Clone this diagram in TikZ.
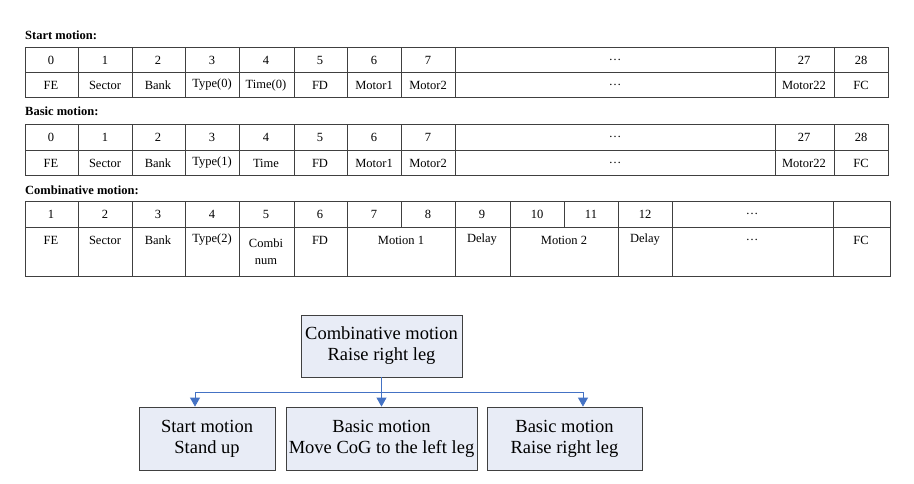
\documentclass[tikz,border=0pt]{standalone}
\usepackage{fontspec}
\setmainfont{Liberation Serif}
\usetikzlibrary{arrows.meta}
\definecolor{arr}{HTML}{4472C4}
\definecolor{boxfill}{HTML}{E8ECF6}
\begin{document}
\begin{tikzpicture}[x=1pt,y=-1pt,
  t/.style={font=\fontsize{12.5}{13}\selectfont,inner sep=0pt},
  ttl/.style={font=\fontsize{12.5}{13}\selectfont\bfseries,inner sep=0pt,anchor=west},
  tl/.style={draw=black!75,line width=0.7pt},
  box/.style={draw=black!75,fill=boxfill,line width=0.8pt,align=center,inner sep=0pt,font=\fontsize{18.5}{21}\selectfont},
  conn/.style={draw=arr,line width=0.8pt},
  aconn/.style={conn,-{Triangle[width=10pt,length=9pt]}}]
\useasboundingbox (0,0) rectangle (914,483);
% ---- Table 1 ----
\node[ttl] (t1) at (25,35) {Start motion:};
\draw[tl] (25,47) rectangle (888,97);
\draw[tl] (25,72) -- (888,72);
\foreach \x in {78,132,185,239,294,347,401,455,775,834} \draw[tl] (\x,47) -- (\x,97);
\foreach \x/\a/\b in {51/0/FE,105/1/Sector,158/2/Bank,212/3/Type(0),266/4/Time(0),320/5/FD,374/6/Motor1,428/7/Motor2,615/\dots/\dots,804/27/Motor22,861/28/FC}{
  \node[t] (a\x) at (\x,60) {\a}; \node[t] (b\x) at (\x,85) {\b};}
% ---- Table 2 ----
\node[ttl] (t2) at (25,111) {Basic motion:};
\draw[tl] (25,124) rectangle (888,175);
\draw[tl] (25,150) -- (888,150);
\foreach \x in {78,132,185,239,294,347,401,455,775,834} \draw[tl] (\x,124) -- (\x,175);
\foreach \x/\a/\b in {51/0/FE,105/1/Sector,158/2/Bank,212/3/Type(1),266/4/Time,320/5/FD,374/6/Motor1,428/7/Motor2,615/\dots/\dots,804/27/Motor22,861/28/FC}{
  \node[t] (c\x) at (\x,137) {\a}; \node[t] (d\x) at (\x,163) {\b};}
% ---- Table 3 ----
\node[ttl] (t3) at (25,190) {Combinative motion:};
\draw[tl] (25,201) rectangle (890,276);
\draw[tl] (25,227) -- (890,227);
\foreach \x in {78,132,185,239,294,347,455,510,618,672,833} \draw[tl] (\x,201) -- (\x,276);
\foreach \x in {401,564} \draw[tl] (\x,201) -- (\x,227);
\foreach \x/\a in {51/1,105/2,158/3,212/4,266/5,320/6,374/7,428/8,482/9,537/10,591/11,645/12,752/\dots}
  \node[t] (e\x) at (\x,214) {\a};
\foreach \x/\b in {51/FE,105/Sector,158/Bank,212/Type(2),320/FD,401/Motion 1,482/Delay,564/Motion 2,645/Delay,752/\dots,861/FC}
  \node[t] (f\x) at (\x,240) {\b};
\node[t,align=center] (f266) at (266,252) {Combi\\[4pt]num};
% ---- Diagram ----
\node[box,minimum width=161pt,minimum height=62pt] (top) at (381.5,346) {Combinative motion\\Raise right leg};
\node[box,minimum width=136pt,minimum height=63pt] (s1) at (207,438.5) {Start motion\\Stand up};
\node[box,minimum width=191pt,minimum height=63pt] (s2) at (381.5,438.5) {Basic motion\\Move CoG to the left leg};
\node[box,minimum width=155pt,minimum height=63pt] (s3) at (564.5,438.5) {Basic motion\\Raise right leg};
\coordinate (j) at (381.5,392);
\coordinate (jl) at (195,392);
\coordinate (jr) at (583,392);
\draw[conn] (top.south) -- (j);
\draw[conn] (jl) -- (jr);
\draw[aconn] (jl) -- (jl |- s1.north);
\draw[aconn] (j) -- (s2.north);
\draw[aconn] (jr) -- (jr |- s3.north);
\end{tikzpicture}
\end{document}
